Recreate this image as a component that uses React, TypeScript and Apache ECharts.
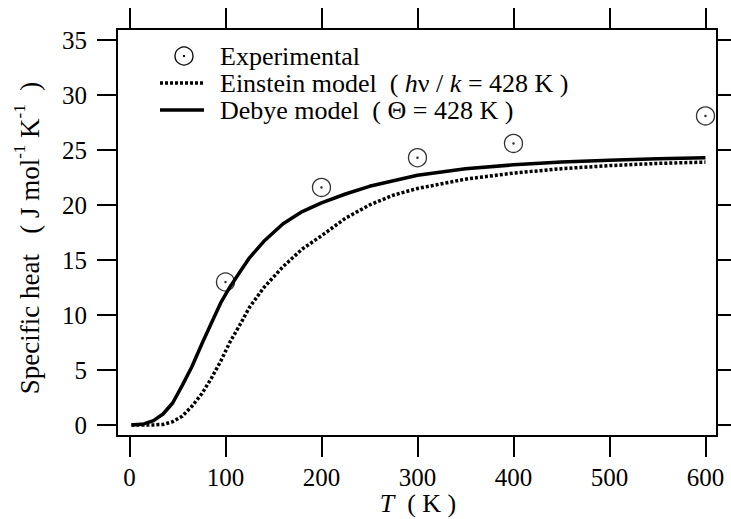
import React, { useEffect, useRef } from "react";
import * as echarts from "echarts";

const X_TICKS = [0, 100, 200, 300, 400, 500, 600];
const Y_TICKS = [0, 5, 10, 15, 20, 25, 30, 35];

const T_MODEL = [2, 15, 25, 35, 45, 55, 65, 75, 85, 95, 105, 115, 125, 140, 160, 180, 200, 225, 250, 275, 300, 350, 400, 450, 500, 550, 600];
const C_DEBYE = [0, 0.1, 0.4, 1.0, 2.0, 3.6, 5.3, 7.3, 9.2, 11.1, 12.6, 13.9, 15.2, 16.7, 18.3, 19.4, 20.2, 21.0, 21.7, 22.2, 22.7, 23.3, 23.65, 23.9, 24.07, 24.2, 24.3];
const C_EINSTEIN = [0, 0, 0.01, 0.05, 0.3, 0.8, 1.7, 2.8, 4.2, 5.8, 7.6, 9.1, 10.7, 12.5, 14.4, 16.0, 17.2, 18.8, 20.0, 20.9, 21.5, 22.35, 22.9, 23.3, 23.58, 23.78, 23.9];

const T_EXP = [100, 200, 300, 400, 600];
const C_EXP = [13.0, 21.6, 24.3, 25.6, 28.1];

const FONT = "Liberation Serif";

export default function App() {
  const ref = useRef<HTMLDivElement>(null);
  useEffect(() => {
    if (!ref.current) return;
    const chart = echarts.init(ref.current, null, { renderer: "svg" });
    const debye = T_MODEL.map((t, i) => [t, C_DEBYE[i]]);
    const einstein = T_MODEL.map((t, i) => [t, C_EINSTEIN[i]]);
    const exp = T_EXP.map((t, i) => [t, C_EXP[i]]);
    const axisLine = { show: true, onZero: false, lineStyle: { color: "#000", width: 2 } };
    const tickStyle = { color: "#000", width: 2 };
    const labelStyle = { color: "#000", fontSize: 25, fontFamily: FONT };
    const base = { fontSize: 26, fontFamily: FONT, fill: "#000" };
    const reg = { fontSize: 26, fontFamily: FONT, fill: "#000" };
    const ital = { fontSize: 26, fontFamily: FONT, fontStyle: "italic", fill: "#000" };
    chart.setOption({
      animation: false,
      backgroundColor: "#fff",
      grid: { left: 117, right: 14, top: 29, bottom: 83, containLabel: false, outerBoundsMode: "none" },
      xAxis: [
        {
          type: "value", min: -13, max: 612, position: "bottom",
          axisLine,
          axisTick: { show: true, inside: false, length: 21, lineStyle: tickStyle, customValues: X_TICKS },
          axisLabel: { ...labelStyle, margin: 29, customValues: X_TICKS },
          splitLine: { show: false },
        },
        {
          type: "value", min: -13, max: 612, position: "top",
          axisLine,
          axisTick: { show: true, inside: false, length: 21, lineStyle: tickStyle, customValues: X_TICKS },
          axisLabel: { show: false },
          splitLine: { show: false },
        },
      ],
      yAxis: [
        {
          type: "value", min: -1, max: 36, position: "left",
          axisLine,
          axisTick: { show: true, inside: false, length: 20, lineStyle: tickStyle, customValues: Y_TICKS },
          axisLabel: { ...labelStyle, margin: 30, customValues: Y_TICKS },
          splitLine: { show: false },
        },
        {
          type: "value", min: -1, max: 36, position: "right",
          axisLine,
          axisTick: { show: true, inside: false, length: 14, lineStyle: tickStyle, customValues: Y_TICKS },
          axisLabel: { show: false },
          splitLine: { show: false },
        },
      ],
      series: [
        {
          type: "line", name: "Einstein", data: einstein, showSymbol: false, symbol: "none",
          smooth: false,
          lineStyle: { color: "#000", width: 3.5, type: [3, 2] },
        },
        {
          type: "line", name: "Debye", data: debye, showSymbol: false, symbol: "none",
          smooth: false,
          lineStyle: { color: "#000", width: 3.5 },
        },
        {
          type: "scatter", name: "Experimental", data: exp, symbol: "circle", symbolSize: 18, z: 5,
          itemStyle: { color: "rgba(255,255,255,0)", borderColor: "#000", borderWidth: 1.3 },
        },
        {
          type: "scatter", name: "ExpDot", data: exp, symbol: "circle", symbolSize: 2.5, z: 6,
          itemStyle: { color: "#000" },
        },
      ],
      graphic: [
        { type: "circle", shape: { cx: 184, cy: 56, r: 9 }, style: { fill: "none", stroke: "#000", lineWidth: 1.3 } },
        { type: "circle", shape: { cx: 184, cy: 56, r: 1.2 }, style: { fill: "#000" } },
        {
          type: "text", x: 220, y: 56,
          style: { ...base, text: "Experimental", textVerticalAlign: "middle", verticalAlign: "middle" },
        },
        { type: "line", shape: { x1: 160, y1: 83, x2: 204, y2: 83 }, style: { stroke: "#000", lineWidth: 3.5, lineDash: [3, 2] } },
        {
          type: "text", x: 220, y: 83,
          style: {
            ...base,
            text: "{a|Einstein model  ( }{i|h}{a|ν / }{i|k}{a| = 428 K )}",
            rich: { a: reg, i: ital },
            textVerticalAlign: "middle", verticalAlign: "middle",
          },
        },
        { type: "line", shape: { x1: 160, y1: 110, x2: 204, y2: 110 }, style: { stroke: "#000", lineWidth: 3.5 } },
        {
          type: "text", x: 220, y: 110,
          style: { ...base, text: "Debye model  ( Θ = 428 K )", textVerticalAlign: "middle", verticalAlign: "middle" },
        },
        {
          type: "text", x: 418, y: 503,
          style: {
            ...base,
            text: "{i|T}{a|  ( K )}",
            rich: { a: reg, i: ital },
            textAlign: "center", align: "center", textVerticalAlign: "middle", verticalAlign: "middle",
          },
        },
        {
          type: "text", x: 27, y: 238, rotation: Math.PI / 2,
          style: {
            ...base,
            text: "{a|Specific heat   ( J mol}{s|-1}{a| K}{s|-1}{a|  )}",
            rich: {
              a: { fontSize: 27, fontFamily: FONT, fill: "#000", lineHeight: 32, verticalAlign: "bottom" },
              s: { fontSize: 17, fontFamily: FONT, fill: "#000", lineHeight: 32, verticalAlign: "top" },
            },
            textAlign: "center", align: "center", textVerticalAlign: "middle", verticalAlign: "middle",
          },
        },
      ],
    });
    return () => chart.dispose();
  }, []);
  return <div ref={ref} style={{ position: "absolute", left: 0, top: 0, width: 731, height: 519 }} />;
}
